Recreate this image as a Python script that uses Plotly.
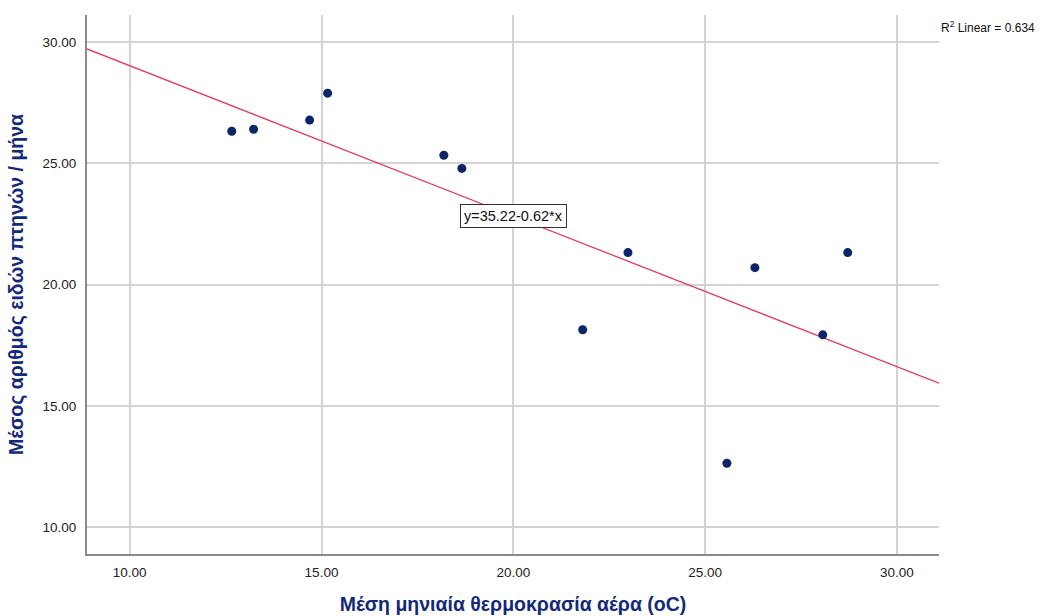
import plotly.graph_objects as go

# Data
temperature = [12.66, 13.23, 14.69, 15.16, 18.19, 18.66, 21.81, 22.99, 25.57, 26.30, 28.07, 28.72]
bird_species = [26.32, 26.40, 26.78, 27.89, 25.33, 24.79, 18.14, 21.32, 12.64, 20.70, 17.93, 21.32]
intercept = 35.22
slope = -0.62
r_squared = 0.634
x_range = [8.886, 31.10]
y_range = [8.90, 31.11]
x_ticks = [10, 15, 20, 25, 30]
y_ticks = [10, 15, 20, 25, 30]

fit_x = x_range
fit_y = [intercept + slope * v for v in fit_x]

navy = "#13297a"
fig = go.Figure()
fig.add_trace(go.Scatter(x=fit_x, y=fit_y, mode="lines",
                         line=dict(color="#e8395f", width=1.3), hoverinfo="skip", showlegend=False))
fig.add_trace(go.Scatter(x=temperature, y=bird_species, mode="markers",
                         marker=dict(color="#0c2468", size=9), showlegend=False))

fig.add_annotation(x=20.0, y=22.83, xref="x", yref="y",
                   text=f"y={intercept:.2f}{slope:.2f}*x", showarrow=False,
                   font=dict(family="Liberation Sans, Arial", size=14.5, color="#111"),
                   bordercolor="#333", borderwidth=1, borderpad=3, bgcolor="white")
fig.add_annotation(x=1.0, y=0.978, xref="paper", yref="paper", xanchor="left", yanchor="middle",
                   xshift=0, text=f"R<sup>2</sup> Linear = {r_squared:.3f}", showarrow=False,
                   font=dict(family="Liberation Sans, Arial", size=12, color="#111"))

fig.update_layout(
    width=1046, height=616,
    margin=dict(l=87, r=107, t=15, b=62),
    plot_bgcolor="white", paper_bgcolor="white",
    font=dict(family="Liberation Sans, Arial", size=13.5, color="#222"),
)
fig.update_xaxes(range=x_range, tickvals=x_ticks, ticktext=[f"{v:.2f}" for v in x_ticks],
                 showgrid=True, gridcolor="#d3d3d3", gridwidth=1.5,
                 showline=True, linecolor="#8a8a8a", linewidth=2, zeroline=False,
                 ticks="", ticklabelstandoff=5, automargin=False,
                 title=dict(text="<b>Μέση μηνιαία θερμοκρασία αέρα (oC)</b>",
                            font=dict(size=19.5, color=navy), standoff=18))
fig.update_yaxes(range=y_range, tickvals=y_ticks, ticktext=[f"{v:.2f}" for v in y_ticks],
                 showgrid=True, gridcolor="#d3d3d3", gridwidth=1.5,
                 showline=True, linecolor="#8a8a8a", linewidth=2, zeroline=False,
                 ticks="", ticklabelstandoff=6, automargin=False,
                 title=dict(text="<b>Μέσος αριθμός ειδών πτηνών / μήνα</b>",
                            font=dict(size=19.5, color=navy), standoff=14))

fig.write_html("out.html")
